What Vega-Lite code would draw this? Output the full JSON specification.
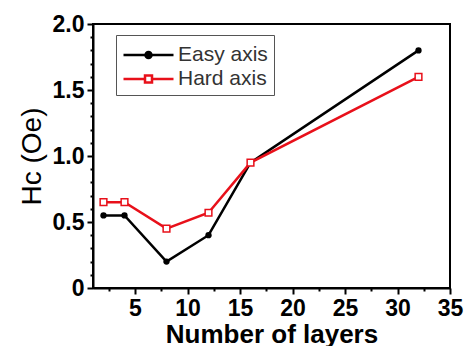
{
  "$schema": "https://vega.github.io/schema/vega-lite/v6.json",
  "width": 357,
  "height": 264,
  "autosize": {"type": "none"},
  "padding": {"left": 93, "top": 24, "right": 15, "bottom": 58},
  "background": "white",
  "config": {
    "font": "Liberation Sans",
    "view": {"stroke": "black", "strokeWidth": 2},
    "axis": {"grid": false, "domainColor": "black", "domainWidth": 2, "tickColor": "black", "tickWidth": 2, "labelColor": "black", "titleColor": "black"},
    "legend": {"orient": "none", "legendX": 23, "legendY": 11, "title": null, "strokeColor": "#555", "padding": 6, "labelFontSize": 21, "labelColor": "#333", "symbolSize": 625, "symbolStrokeWidth": 2.5, "symbolOpacity": 1, "labelOffset": 28, "rowPadding": 0}
  },
  "data": {
    "values": [
      {"layers": 2, "hc": 0.55, "series": "Easy axis"},
      {"layers": 4, "hc": 0.55, "series": "Easy axis"},
      {"layers": 8, "hc": 0.2, "series": "Easy axis"},
      {"layers": 12, "hc": 0.4, "series": "Easy axis"},
      {"layers": 16, "hc": 0.95, "series": "Easy axis"},
      {"layers": 32, "hc": 1.8, "series": "Easy axis"},
      {"layers": 2, "hc": 0.65, "series": "Hard axis"},
      {"layers": 4, "hc": 0.65, "series": "Hard axis"},
      {"layers": 8, "hc": 0.45, "series": "Hard axis"},
      {"layers": 12, "hc": 0.57, "series": "Hard axis"},
      {"layers": 16, "hc": 0.95, "series": "Hard axis"},
      {"layers": 32, "hc": 1.6, "series": "Hard axis"}
    ]
  },
  "resolve": {"axis": {"x": "independent", "y": "independent"}},
  "layer": [
    {
      "mark": {"type": "line", "strokeWidth": 2.5},
      "encoding": {
        "x": {"field": "layers", "type": "quantitative", "scale": {"domain": [1, 35], "nice": false, "zero": false},
          "axis": {"orient": "bottom", "values": [5, 10, 15, 20, 25, 30, 35], "tickSize": 6,
            "labelFontSize": 23, "labelFontWeight": "bold", "labelPadding": 3, "labelFlush": false,
            "title": "Number of layers", "titleFontSize": 26, "titleFontWeight": "bold", "titlePadding": 1}},
        "y": {"field": "hc", "type": "quantitative", "scale": {"domain": [0, 2], "nice": false},
          "axis": {"orient": "left", "values": [0, 0.5, 1, 1.5, 2], "tickSize": 6,
            "labelExpr": "datum.value === 0 ? '0' : format(datum.value, '.1f')",
            "labelFontSize": 23, "labelFontWeight": "bold", "labelPadding": 3, "labelFlush": false,
            "title": "Hc (Oe)", "titleFontSize": 28, "titleFontWeight": "normal", "titlePadding": 6}},
        "color": {"field": "series", "type": "nominal", "scale": {"domain": ["Easy axis", "Hard axis"], "range": ["black", "#e8101a"]}, "title": null}
      }
    },
    {
      "mark": {"type": "point", "filled": false, "size": 0, "opacity": 1},
      "encoding": {
        "x": {"field": "layers", "type": "quantitative", "axis": null},
        "y": {"field": "hc", "type": "quantitative", "axis": null},
        "color": {"field": "series", "type": "nominal", "title": null},
        "fill": {"field": "series", "type": "nominal", "scale": {"domain": ["Easy axis", "Hard axis"], "range": ["black", "white"]}, "title": null},
        "shape": {"field": "series", "type": "nominal", "title": null, "scale": {"domain": ["Easy axis", "Hard axis"], "range": ["M-1,0H3M1.24,0A0.24,0.24 0 1,1 0.76,0A0.24,0.24 0 1,1 1.24,0Z", "M-1,0H0.72M1.28,0H3M0.72,-0.28H1.28V0.28H0.72Z"]}}
      }
    },
    {
      "transform": [{"filter": "datum.series === 'Easy axis'"}],
      "mark": {"type": "point", "shape": "circle", "filled": true, "size": 40, "color": "black", "opacity": 1},
      "encoding": {
        "x": {"field": "layers", "type": "quantitative", "axis": null},
        "y": {"field": "hc", "type": "quantitative", "axis": null}
      }
    },
    {
      "transform": [{"filter": "datum.series === 'Hard axis'"}],
      "mark": {"type": "point", "shape": "square", "filled": false, "fill": "white", "stroke": "#e8101a", "size": 45, "strokeWidth": 1.5, "opacity": 1},
      "encoding": {
        "x": {"field": "layers", "type": "quantitative", "axis": null},
        "y": {"field": "hc", "type": "quantitative", "axis": null}
      }
    },
    {
      "mark": {"type": "point", "size": 0, "opacity": 0},
      "encoding": {
        "x": {"field": "layers", "type": "quantitative",
          "axis": {"orient": "bottom", "values": [2.5, 7.5, 12.5, 17.5, 22.5, 27.5, 32.5], "labels": false, "domain": false, "tickSize": 3, "title": null}},
        "y": {"field": "hc", "type": "quantitative",
          "axis": {"orient": "left", "values": [0.1, 0.2, 0.3, 0.4, 0.6, 0.7, 0.8, 0.9, 1.1, 1.2, 1.3, 1.4, 1.6, 1.7, 1.8, 1.9], "labels": false, "domain": false, "tickSize": 3, "title": null}}
      }
    }
  ]
}
